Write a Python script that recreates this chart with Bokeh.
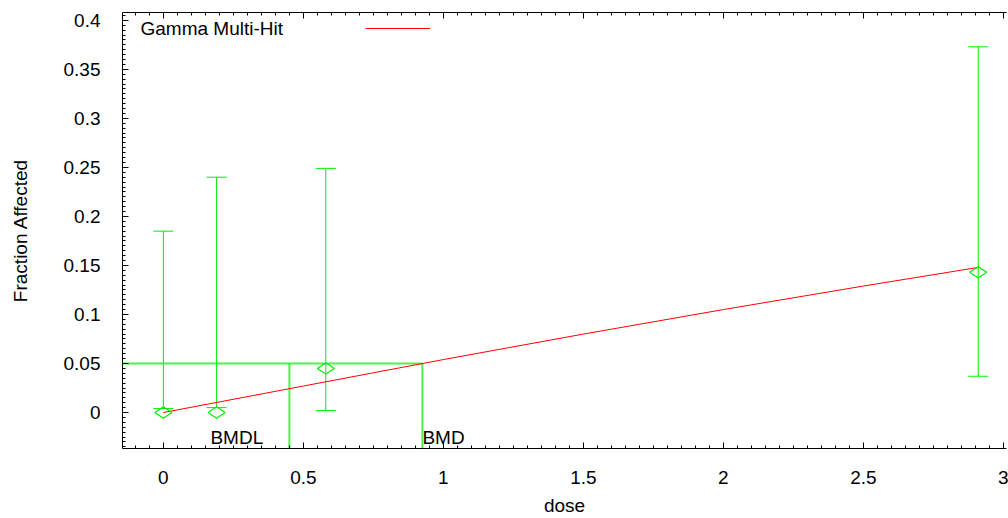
import numpy as np
from bokeh.plotting import figure
from bokeh.models import (ColumnDataSource, Whisker, TeeHead, LinearAxis, FixedTicker,
                          Label, Legend, LegendItem, Range1d)
from bokeh.embed import file_html
from bokeh.resources import INLINE

# ---- data ----
dose = [0.0, 0.19, 0.58, 2.91]
frac = [0.0, 0.0, 0.045, 0.143]
ci_lower = [0.004, 0.005, 0.002, 0.037]
ci_upper = [0.185, 0.240, 0.249, 0.373]

model_dose = [0.0, 0.5, 1.0, 1.5, 2.0, 2.5, 2.91]
model_frac = [0.0, 0.027, 0.054, 0.080, 0.105, 0.129, 0.148]

bmr = 0.05
bmd = 0.925
bmdl = 0.45

x_ticks = [0, 0.5, 1, 1.5, 2, 2.5, 3]
x_tick_labels = ["0", "0.5", "1", "1.5", "2", "2.5", "3"]
y_ticks = [0, 0.05, 0.1, 0.15, 0.2, 0.25, 0.3, 0.35, 0.4]
y_tick_labels = ["0", "0.05", "0.1", "0.15", "0.2", "0.25", "0.3", "0.35", "0.4"]

FONT = "Liberation Sans"
GREEN = "#00ee00"
RED = "#ff0000"

x0, x1 = -0.146, 3.011
y0, y1 = -0.0367, 0.408

p = figure(width=1008, height=518, x_range=Range1d(x0, x1), y_range=Range1d(y0, y1),
           output_backend="svg", toolbar_location=None,
           min_border_left=122, min_border_right=2, min_border_top=12, min_border_bottom=70,
           x_axis_label="dose", y_axis_label="Fraction Affected")
p.grid.visible = False
p.outline_line_color = None
p.background_fill_color = "white"
p.border_fill_color = "white"

x_minor = [float(v) for v in np.round(np.arange(-0.15, 3.0001, 0.05), 4)]
y_minor = [float(v) for v in np.round(np.arange(-0.035, 0.4051, 0.005), 4)]
xt = FixedTicker(ticks=x_ticks, minor_ticks=x_minor)
yt = FixedTicker(ticks=y_ticks, minor_ticks=y_minor)

def style_axis(ax):
    ax.axis_line_color = "black"
    ax.major_tick_in = 6
    ax.major_tick_out = 0
    ax.minor_tick_in = 3
    ax.minor_tick_out = 0
    ax.major_tick_line_color = "black"
    ax.minor_tick_line_color = "black"
    ax.major_label_text_font = FONT
    ax.major_label_text_font_size = "19px"
    ax.major_label_text_color = "black"
    ax.axis_label_text_font = FONT
    ax.axis_label_text_font_size = "19px"
    ax.axis_label_text_font_style = "normal"
    ax.axis_label_text_color = "black"

xa = p.xaxis[0]
xa.ticker = xt
xa.major_label_overrides = {t: l for t, l in zip(x_ticks, x_tick_labels)}
style_axis(xa)
xa.major_label_standoff = 22
xa.axis_label_standoff = 8

ya = p.yaxis[0]
ya.ticker = yt
ya.major_label_overrides = {t: l for t, l in zip(y_ticks, y_tick_labels)}
style_axis(ya)
ya.major_label_standoff = 22
ya.axis_label_standoff = 30

top = LinearAxis(ticker=FixedTicker(ticks=x_ticks, minor_ticks=x_minor))
style_axis(top)
top.major_label_overrides = {t: "" for t in x_ticks}
top.major_label_standoff = 0
p.add_layout(top, "above")

# BMR / BMD / BMDL guide lines
p.segment(x0=[x0], y0=[bmr], x1=[bmd], y1=[bmr], line_color=GREEN, line_width=2, line_alpha=0.7)
p.segment(x0=[bmdl, bmd], y0=[bmr, bmr], x1=[bmdl, bmd], y1=[y0, y0],
          line_color=GREEN, line_width=2, line_alpha=0.7)

# error bars
src = ColumnDataSource(dict(dose=dose, frac=frac, lo=ci_lower, hi=ci_upper))
w = Whisker(source=src, base="dose", lower="lo", upper="hi", line_color=GREEN, line_width=1,
            upper_head=TeeHead(size=20, line_color=GREEN, line_width=1),
            lower_head=TeeHead(size=20, line_color=GREEN, line_width=1))
p.add_layout(w)

# model line
model = p.line(model_dose, model_frac, line_color=RED, line_width=1)

# observed points
p.scatter("dose", "frac", source=src, marker="diamond", angle=np.pi / 2, size=17,
          fill_color=None, line_color=GREEN, line_width=1.2)

# BMD labels
p.add_layout(Label(x=0.168, y=y0, text="BMDL", text_font=FONT, text_font_size="19px",
                   text_color="black", y_offset=1))
p.add_layout(Label(x=bmd, y=y0, text="BMD", text_font=FONT, text_font_size="19px",
                   text_color="black", y_offset=1))

# legend: text then line sample
p.add_layout(Label(x=18, y=410, x_units="screen", y_units="screen", text="Gamma Multi-Hit",
                   text_font=FONT, text_font_size="19px", text_color="black"))
leg = Legend(items=[LegendItem(label=" ", renderers=[model])], location=(243, 410),
             glyph_width=65, glyph_height=20, padding=0, margin=0, spacing=0,
             label_standoff=0, border_line_color=None, background_fill_alpha=0,
             label_text_font_size="19px")
p.add_layout(leg)

open("out.html", "w").write(file_html(p, INLINE))
